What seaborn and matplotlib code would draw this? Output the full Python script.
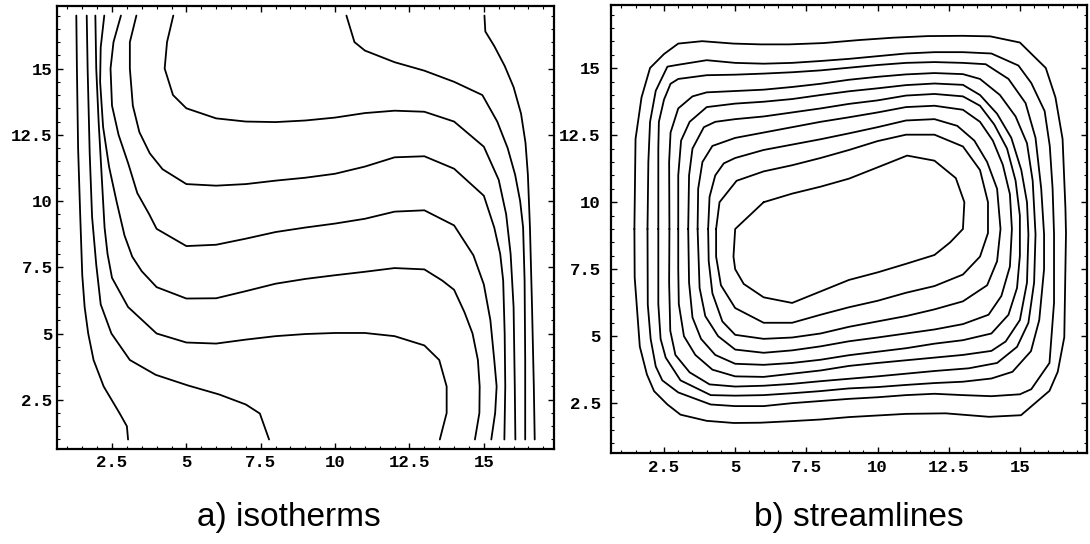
import matplotlib
matplotlib.use("Agg")
import matplotlib.pyplot as plt
from matplotlib import font_manager
from matplotlib.ticker import MultipleLocator
import numpy as np
import pandas as pd
import seaborn as sns

# ---------------- data ----------------
TICKS = [2.5, 5, 7.5, 10, 12.5, 15]
TICK_LABELS = ["2.5", "5", "7.5", "10", "12.5", "15"]
CAPTIONS = ["a) isotherms", "b) streamlines"]

# isotherms (left panel), each a polyline of (x, y)
ISO_1 = [(1.30, 17.0), (1.32, 15.0), (1.36, 12.0), (1.43, 9.5), (1.50, 7.2), (1.58, 6.0),
         (1.70, 5.0), (1.88, 4.0), (2.22, 3.0), (2.75, 2.0), (3.0, 1.5), (3.04, 1.0)]
ISO_2 = [(1.65, 17.0), (1.68, 15.0), (1.75, 11.8), (1.83, 9.4), (1.97, 7.6), (2.12, 6.1),
         (2.48, 5.0), (3.1, 4.0), (3.97, 3.44), (5.05, 3.04), (6.1, 2.7), (7.0, 2.32),
         (7.47, 1.98), (7.78, 1.0)]
ISO_3 = [(1.94, 17.0), (1.97, 15.0), (2.05, 13.0), (2.15, 11.0), (2.25, 9.0), (2.35, 8.0),
         (2.5, 7.1), (3.04, 6.0), (4.0, 5.0), (5.0, 4.66), (6.0, 4.62), (7.0, 4.77),
         (8.0, 4.9), (9.0, 4.98), (10.0, 5.02), (11.0, 5.02), (12.0, 4.9), (13.0, 4.55),
         (13.5, 4.0), (13.75, 3.0), (13.75, 2.0), (13.52, 1.0)]
ISO_4 = [(2.24, 17.0), (2.12, 15.8), (2.1, 14.5), (2.2, 12.8), (2.4, 11.3), (2.65, 10.0),
         (2.92, 8.7), (3.18, 7.9), (3.5, 7.35), (4.0, 6.75), (5.0, 6.32), (6.0, 6.33),
         (7.0, 6.6), (8.0, 6.88), (9.0, 7.06), (10.0, 7.2), (11.0, 7.33), (12.0, 7.47),
         (13.0, 7.42), (13.6, 7.0), (14.0, 6.65), (14.35, 5.8), (14.62, 5.0), (14.8, 4.0),
         (14.86, 3.0), (14.85, 2.0), (14.7, 1.0)]
ISO_5 = [(2.8, 17.0), (2.55, 16.0), (2.45, 15.0), (2.5, 13.6), (2.72, 12.5), (3.05, 11.4),
         (3.35, 10.3), (3.75, 9.5), (4.0, 8.95), (5.0, 8.3), (6.0, 8.35), (7.0, 8.58),
         (8.0, 8.83), (9.0, 9.0), (10.0, 9.15), (11.0, 9.33), (12.0, 9.6), (13.0, 9.65),
         (14.0, 9.08), (14.65, 7.95), (15.0, 6.85), (15.22, 5.5), (15.35, 4.0), (15.43, 3.0),
         (15.38, 2.0), (15.25, 1.0)]
ISO_6 = [(3.32, 17.0), (3.1, 16.0), (3.1, 15.0), (3.2, 13.6), (3.42, 12.6), (3.77, 11.8),
         (4.2, 11.2), (5.0, 10.64), (6.0, 10.58), (7.0, 10.64), (8.0, 10.77), (9.0, 10.88),
         (10.0, 11.03), (11.0, 11.3), (12.0, 11.65), (13.0, 11.69), (14.0, 11.22),
         (15.0, 10.2), (15.35, 9.0), (15.55, 8.0), (15.65, 7.0), (15.7, 5.0), (15.72, 3.0),
         (15.69, 1.0)]
ISO_7 = [(4.56, 17.0), (4.35, 16.0), (4.27, 15.0), (4.55, 14.0), (5.0, 13.5), (6.0, 13.12),
         (7.0, 13.0), (8.0, 12.98), (9.0, 13.04), (10.0, 13.15), (11.0, 13.32), (12.0, 13.41),
         (13.0, 13.37), (14.0, 13.0), (15.0, 12.05), (15.5, 10.8), (15.75, 9.5), (15.9, 8.0),
         (16.0, 6.0), (16.04, 3.0), (16.06, 1.0)]
ISO_8 = [(10.38, 17.0), (10.65, 16.0), (11.0, 15.68), (12.0, 15.24), (13.0, 14.92),
         (14.0, 14.5), (14.95, 14.0), (15.45, 13.0), (15.8, 12.0), (16.05, 11.0),
         (16.22, 10.0), (16.32, 9.0), (16.37, 7.0), (16.39, 4.0), (16.39, 1.0)]
ISO_9 = [(15.02, 17.0), (15.05, 16.4), (15.35, 15.85), (15.7, 15.1), (16.0, 14.3),
         (16.25, 13.3), (16.4, 12.2), (16.48, 11.0), (16.55, 9.0), (16.62, 6.0),
         (16.68, 3.0), (16.71, 1.0)]

# streamlines (right panel), closed loops, outer to inner
STREAM_1 = [(1.46, 9.0), (1.5, 12.36), (1.71, 13.91), (2.01, 15.01), (2.5, 15.53), (3.0, 15.92),
            (3.84, 16.01), (4.94, 15.92), (5.91, 15.89), (6.89, 15.89), (8.11, 15.94),
            (9.33, 16.05), (10.55, 16.14), (11.77, 16.2), (12.99, 16.21), (13.96, 16.19),
            (15.0, 15.96), (15.91, 15.01), (16.25, 13.91), (16.5, 12.36), (16.6, 9.78),
            (16.62, 8.84), (16.56, 4.96), (16.33, 3.67), (16.04, 2.96), (15.04, 2.05),
            (13.92, 1.99), (12.39, 2.12), (11.0, 2.1), (10.0, 2.04), (9.0, 1.98), (8.0, 1.89),
            (7.0, 1.83), (5.89, 1.77), (4.95, 1.76), (4.0, 1.84), (3.08, 2.07), (2.62, 2.45),
            (2.15, 2.95), (1.9, 3.57), (1.65, 4.61), (1.47, 7.19), (1.46, 9.0)]
STREAM_2 = [(1.92, 9.0), (1.95, 11.5), (2.01, 13.0), (2.21, 14.16), (2.62, 15.06), (3.0, 15.13),
            (4.0, 15.3), (5.0, 15.2), (6.0, 15.17), (7.0, 15.2), (8.0, 15.27), (9.0, 15.35),
            (10.0, 15.45), (11.0, 15.55), (12.0, 15.6), (13.0, 15.6), (14.0, 15.55),
            (14.95, 15.1), (15.4, 14.45), (15.87, 13.4), (16.05, 12.1), (16.15, 10.5),
            (16.2, 8.8), (16.2, 6.25), (16.04, 4.0), (15.4, 3.02), (15.0, 2.83), (14.0, 2.76),
            (13.0, 2.8), (12.0, 2.85), (11.0, 2.8), (10.0, 2.72), (9.0, 2.66), (8.0, 2.58),
            (7.0, 2.5), (6.0, 2.39), (5.0, 2.39), (4.14, 2.45), (3.0, 2.9), (2.44, 3.35),
            (2.21, 3.87), (2.03, 4.9), (1.93, 6.18), (1.92, 9.0)]
STREAM_3 = [(2.3, 9.0), (2.3, 12.0), (2.32, 13.0), (2.5, 13.83), (2.73, 14.42), (3.0, 14.6),
            (4.0, 14.74), (5.0, 14.76), (6.0, 14.8), (7.0, 14.85), (8.0, 14.92), (9.0, 15.02),
            (10.0, 15.12), (11.0, 15.2), (12.0, 15.23), (13.0, 15.2), (13.8, 15.15),
            (14.6, 14.6), (15.2, 13.7), (15.55, 12.4), (15.75, 10.5), (15.85, 8.8),
            (15.85, 7.5), (15.68, 5.6), (15.39, 4.44), (14.74, 3.67), (14.0, 3.42),
            (13.0, 3.3), (12.0, 3.25), (11.0, 3.18), (10.0, 3.1), (9.0, 3.05), (8.0, 2.95),
            (7.0, 2.87), (6.0, 2.8), (5.0, 2.78), (4.14, 2.8), (3.08, 3.35), (2.56, 4.2),
            (2.38, 4.9), (2.3, 6.2), (2.3, 9.0)]
STREAM_4 = [(2.69, 9.0), (2.68, 11.5), (2.73, 12.6), (3.0, 13.5), (3.5, 13.95), (4.0, 14.1),
            (5.0, 14.15), (6.0, 14.2), (7.0, 14.3), (8.0, 14.42), (9.0, 14.57), (10.0, 14.68),
            (11.0, 14.77), (12.0, 14.82), (13.0, 14.78), (13.6, 14.6), (14.3, 14.0),
            (14.85, 13.2), (15.25, 12.2), (15.45, 10.8), (15.55, 8.8), (15.5, 7.0),
            (15.3, 5.5), (14.9, 4.6), (14.2, 4.0), (13.2, 3.8), (12.0, 3.7), (11.0, 3.6),
            (10.0, 3.5), (9.0, 3.41), (8.0, 3.32), (7.0, 3.22), (6.0, 3.15), (5.0, 3.12),
            (4.1, 3.2), (3.4, 3.65), (2.9, 4.3), (2.72, 5.2), (2.68, 7.0), (2.69, 9.0)]
STREAM_5 = [(3.0, 9.0), (3.0, 11.0), (3.1, 12.3), (3.4, 13.0), (4.0, 13.55), (5.0, 13.68),
            (6.0, 13.75), (7.0, 13.85), (8.0, 14.0), (9.0, 14.14), (10.0, 14.25), (11.0, 14.37),
            (12.0, 14.43), (13.0, 14.38), (13.6, 14.0), (14.2, 13.3), (14.7, 12.4),
            (15.05, 11.2), (15.25, 10.0), (15.3, 8.8), (15.25, 7.0), (15.0, 5.6), (14.5, 4.8),
            (14.0, 4.45), (13.0, 4.3), (12.0, 4.2), (11.0, 4.1), (10.0, 4.0), (9.0, 3.89),
            (8.0, 3.72), (7.0, 3.6), (6.0, 3.48), (5.0, 3.5), (4.2, 3.75), (3.6, 4.3),
            (3.2, 5.0), (3.02, 6.2), (3.0, 7.5), (3.0, 9.0)]
STREAM_6 = [(3.35, 9.0), (3.38, 11.0), (3.5, 12.0), (3.9, 12.8), (4.3, 13.0), (5.0, 13.1),
            (6.0, 13.2), (7.0, 13.35), (8.0, 13.5), (9.0, 13.67), (10.0, 13.8), (11.0, 13.98),
            (12.0, 14.04), (13.0, 13.95), (13.6, 13.6), (14.1, 12.9), (14.55, 12.0),
            (14.85, 10.8), (15.0, 9.5), (15.0, 8.0), (14.9, 6.8), (14.6, 5.8), (14.0, 5.1),
            (13.0, 4.85), (12.0, 4.72), (11.0, 4.55), (10.0, 4.42), (9.0, 4.29), (8.0, 4.12),
            (7.0, 4.0), (6.0, 3.93), (5.0, 3.97), (4.3, 4.3), (3.8, 4.9), (3.5, 5.7),
            (3.38, 7.0), (3.35, 9.0)]
STREAM_7 = [(3.68, 9.0), (3.7, 10.5), (3.85, 11.5), (4.2, 12.1), (5.0, 12.4), (6.0, 12.6),
            (7.0, 12.8), (8.0, 13.0), (9.0, 13.17), (10.0, 13.35), (11.0, 13.55), (12.0, 13.6),
            (13.0, 13.45), (13.6, 13.0), (14.05, 12.3), (14.4, 11.4), (14.65, 10.3),
            (14.72, 9.0), (14.65, 7.6), (14.35, 6.5), (13.9, 5.8), (13.0, 5.45), (12.0, 5.25),
            (11.0, 5.1), (10.0, 4.95), (9.0, 4.81), (8.0, 4.62), (7.0, 4.47), (6.0, 4.38),
            (5.0, 4.5), (4.4, 5.0), (3.95, 5.75), (3.75, 6.8), (3.68, 9.0)]
STREAM_8 = [(4.05, 9.0), (4.1, 10.2), (4.3, 11.0), (4.6, 11.45), (5.0, 11.65), (6.0, 11.95),
            (7.0, 12.15), (8.0, 12.35), (9.0, 12.57), (10.0, 12.8), (11.0, 13.05), (12.0, 13.1),
            (12.8, 12.85), (13.4, 12.3), (13.85, 11.5), (14.2, 10.5), (14.32, 9.0),
            (14.2, 7.8), (13.85, 6.9), (13.0, 6.3), (12.0, 6.0), (11.0, 5.75), (10.0, 5.55),
            (9.0, 5.35), (8.0, 5.1), (7.0, 4.95), (6.0, 4.9), (5.0, 5.05), (4.55, 5.55),
            (4.2, 6.6), (4.07, 7.8), (4.05, 9.0)]
STREAM_9 = [(4.33, 9.0), (4.45, 10.0), (5.05, 10.8), (6.0, 11.15), (7.0, 11.38), (8.0, 11.65),
            (9.0, 11.95), (10.0, 12.28), (11.0, 12.52), (12.0, 12.52), (13.0, 12.08),
            (13.6, 11.2), (13.88, 10.0), (13.88, 8.85), (13.6, 7.97), (13.0, 7.3),
            (12.0, 6.87), (11.0, 6.62), (10.0, 6.32), (9.0, 6.08), (8.0, 5.8), (7.0, 5.5),
            (6.0, 5.5), (5.0, 6.05), (4.5, 6.9), (4.33, 7.97), (4.33, 9.0)]
STREAM_10 = [(6.0, 10.0), (7.0, 10.32), (8.0, 10.58), (9.0, 10.88), (10.0, 11.3),
             (11.04, 11.74), (12.0, 11.55), (12.75, 10.9), (13.05, 10.0), (13.0, 9.0),
             (12.55, 8.5), (12.0, 8.03), (11.0, 7.7), (10.0, 7.38), (9.0, 7.1), (8.0, 6.67),
             (7.0, 6.24), (6.0, 6.45), (5.3, 6.95), (5.0, 7.5), (4.94, 7.97), (5.0, 9.0),
             (5.35, 9.35), (6.0, 10.0)]

ISOTHERMS = [ISO_1, ISO_2, ISO_3, ISO_4, ISO_5, ISO_6, ISO_7, ISO_8, ISO_9]
STREAMLINES = [STREAM_1, STREAM_2, STREAM_3, STREAM_4, STREAM_5,
               STREAM_6, STREAM_7, STREAM_8, STREAM_9, STREAM_10]


def to_frame(lines):
    rows = []
    for i, pts in enumerate(lines):
        for j, (x, y) in enumerate(pts):
            rows.append({"x": x, "y": y, "line": i, "order": j})
    return pd.DataFrame(rows)


# ---------------- style ----------------
sns.set_theme(style="white")
names = {f.name for f in font_manager.fontManager.ttflist}
mono = "Liberation Mono" if "Liberation Mono" in names else "DejaVu Sans Mono"
sans = "Liberation Sans" if "Liberation Sans" in names else "DejaVu Sans"
plt.rcParams["font.family"] = [sans, "DejaVu Sans"]

fig = plt.figure(figsize=(10.9, 5.44), dpi=100)
ax1 = fig.add_axes([0.052, 0.1746, 0.4563, 0.8143])
ax2 = fig.add_axes([0.5606, 0.1673, 0.4367, 0.8235])

LIM = (0.64, 17.36)


def style_axis(ax, ylpad, xlpad):
    ax.set_xlim(*LIM)
    ax.set_ylim(*LIM)
    ax.set_xticks(TICKS)
    ax.set_xticklabels(TICK_LABELS)
    ax.set_yticks(TICKS)
    ax.set_yticklabels(TICK_LABELS)
    ax.xaxis.set_minor_locator(MultipleLocator(0.5))
    ax.yaxis.set_minor_locator(MultipleLocator(0.5))
    ax.tick_params(which="both", direction="in", top=True, right=True,
                   bottom=True, left=True, labeltop=False, labelright=False,
                   color="black")
    ax.tick_params(which="major", length=4, width=1.0)
    ax.tick_params(which="minor", length=2, width=0.8)
    ax.tick_params(axis="y", which="major", pad=ylpad)
    ax.tick_params(axis="x", which="major", pad=xlpad)
    for lab in ax.get_xticklabels() + ax.get_yticklabels():
        lab.set_fontfamily(mono)
        lab.set_fontweight("bold")
        lab.set_fontsize(12.5)
        lab.set_color("black")
    for sp in ax.spines.values():
        sp.set_visible(True)
        sp.set_linewidth(1.6)
        sp.set_color("black")
    ax.set_xlabel("")
    ax.set_ylabel("")
    ax.set_facecolor("white")


sns.lineplot(data=to_frame(ISOTHERMS), x="x", y="y", units="line", estimator=None,
             sort=False, color="black", linewidth=1.3, ax=ax1, legend=False)
sns.lineplot(data=to_frame(STREAMLINES), x="x", y="y", units="line", estimator=None,
             sort=False, color="black", linewidth=1.3, ax=ax2, legend=False)

style_axis(ax1, ylpad=3.0, xlpad=4.5)
style_axis(ax2, ylpad=7.5, xlpad=5.0)

fig.text(0.2653, 0.033, CAPTIONS[0], ha="center", va="baseline", fontsize=24,
         family=[sans, "DejaVu Sans"], color="black")
fig.text(0.7876, 0.033, CAPTIONS[1], ha="center", va="baseline", fontsize=24,
         family=[sans, "DejaVu Sans"], color="black")

fig.savefig("out.png", dpi=100, facecolor="white")
